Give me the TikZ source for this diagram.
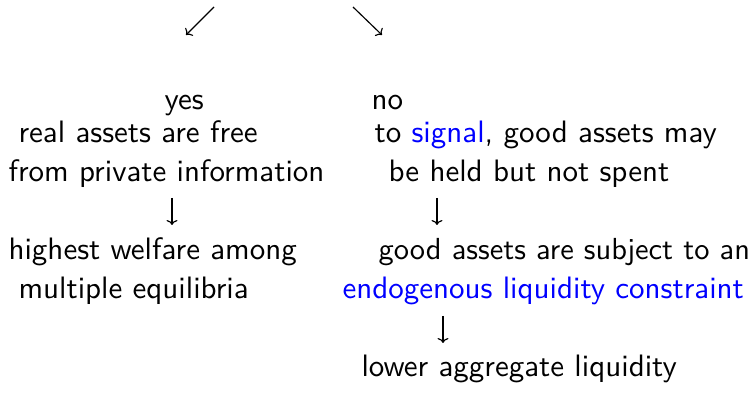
\documentclass[tikz,border=0pt]{standalone}
\usetikzlibrary{arrows.meta}
\begin{document}
\begin{tikzpicture}[x=1pt,y=-1pt,
  txt/.style={font=\sffamily\fontsize{10.95}{13.6}\selectfont, scale=2.83, inner sep=0pt, anchor=base west},
  conn/.style={line width=1.15pt, -{To[length=5pt,width=11pt]}},
]
\useasboundingbox (0,0) rectangle (753,406);
% top branch arrows
\coordinate (swS) at (214,7);  \coordinate (swE) at (186,35);
\coordinate (seS) at (353,7);  \coordinate (seE) at (382,35);
\draw[conn] (swS) -- (swE);
\draw[conn] (seS) -- (seE);
% left column
\node[txt] (yes) at (164,110) {yes};
\node[txt] (l1) at (18,143) {real assets are free};
\node[txt] (l2) at (8,182) {from private information};
\node[txt] (l3) at (8,260) {highest welfare among};
\node[txt] (l4) at (18,299) {multiple equilibria};
% right column
\node[txt] (no) at (371,110) {no};
\node[txt] (r1) at (374,143) {to \textcolor{blue}{signal}, good assets may};
\node[txt] (r2) at (388,182) {be held but not spent};
\node[txt, scale=2.78/2.83] (r3) at (378,260) {good assets are subject to an};
\node[txt] (r4) at (342,299) {\textcolor{blue}{endogenous liquidity constraint}};
\node[txt] (r5) at (361,377) {lower aggregate liquidity};
% down arrows
\coordinate (la) at (172,198); \coordinate (lb) at (172,225);
\coordinate (ra) at (437,198); \coordinate (rb) at (437,225);
\coordinate (ba) at (443,316); \coordinate (bb) at (443,343);
\draw[conn] (la) -- (lb);
\draw[conn] (ra) -- (rb);
\draw[conn] (ba) -- (bb);
\end{tikzpicture}
\end{document}
